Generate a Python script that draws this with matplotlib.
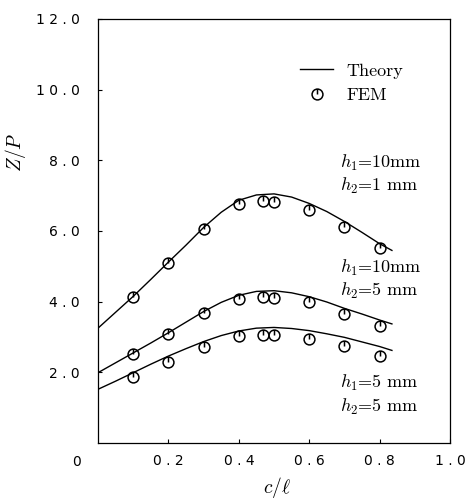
import matplotlib
matplotlib.use("Agg")
import matplotlib.pyplot as plt
from matplotlib.path import Path

plt.rcParams['mathtext.fontset'] = 'cm'

# ---- data ----
x_fem = [0.1, 0.2, 0.3, 0.4, 0.47, 0.5, 0.6, 0.7, 0.8]
fem_10_1 = [4.14, 5.09, 6.05, 6.76, 6.85, 6.83, 6.60, 6.10, 5.53]
fem_10_5 = [2.52, 3.09, 3.67, 4.08, 4.12, 4.10, 3.98, 3.65, 3.31]
fem_5_5 = [1.88, 2.30, 2.73, 3.03, 3.06, 3.06, 2.93, 2.75, 2.46]

x_theory = [0.0, 0.05, 0.1, 0.15, 0.2, 0.25, 0.3, 0.35, 0.4, 0.45, 0.5,
            0.55, 0.6, 0.65, 0.7, 0.75, 0.8, 0.835]
theory_10_1 = [3.25, 3.70, 4.15, 4.63, 5.12, 5.60, 6.10, 6.53, 6.87, 7.02, 7.05,
               6.96, 6.78, 6.55, 6.27, 5.96, 5.64, 5.45]
theory_10_5 = [1.99, 2.27, 2.55, 2.83, 3.12, 3.42, 3.72, 3.98, 4.18, 4.29, 4.31,
               4.25, 4.14, 3.99, 3.81, 3.65, 3.48, 3.37]
theory_5_5 = [1.52, 1.75, 1.99, 2.23, 2.46, 2.67, 2.87, 3.04, 3.17, 3.25, 3.27,
              3.24, 3.18, 3.09, 2.99, 2.86, 2.73, 2.62]

xticks = [0.2, 0.4, 0.6, 0.8, 1.0]
xtick_labels = ["0.2", "0.4", "0.6", "0.8", "1.0"]
yticks = [2, 4, 6, 8, 10, 12]
ytick_labels = ["2.0", "4.0", "6.0", "8.0", "10.0", "12.0"]

case_labels = [r"$h_1$=10mm" + "\n" + r"$h_2$=1 mm",
               r"$h_1$=10mm" + "\n" + r"$h_2$=5 mm",
               r"$h_1$=5 mm" + "\n" + r"$h_2$=5 mm"]
case_label_pos = [(0.688, 7.6), (0.688, 4.62), (0.688, 1.36)]

# ---- marker: circle with a short stroke from top to centre ----
circ = Path.unit_circle()
stroke = Path([[0, 1], [0, 0]], [Path.MOVETO, Path.LINETO])
fem_marker = Path.make_compound_path(circ, stroke)

def spaced(s):
    return " ".join(list(s))

tick_font = dict(family='DejaVu Sans', fontsize=10)

fig = plt.figure(figsize=(4.67, 5.01), dpi=100)
ax = fig.add_axes([0.2099, 0.1158, 0.7537, 0.8463])

for th in (theory_10_1, theory_10_5, theory_5_5):
    ax.plot(x_theory, th, color='black', lw=1.0, label='Theory')
for fm in (fem_10_1, fem_10_5, fem_5_5):
    ax.plot(x_fem, fm, linestyle='none', marker=fem_marker, markersize=7.8,
            markerfacecolor='none', markeredgecolor='black', markeredgewidth=1.1,
            label='FEM')

ax.set_xlim(0, 1.0)
ax.set_ylim(0, 12.0)

ax.set_xticks(xticks)
ax.set_xticklabels([spaced(s) for s in xtick_labels], **tick_font)
ax.set_yticks(yticks)
ax.set_yticklabels([spaced(s) for s in ytick_labels], **tick_font)
ax.tick_params(axis='x', direction='in', length=3, width=0.8, pad=8)
ax.tick_params(axis='y', direction='in', length=3, width=0.8, pad=13)
for sp in ax.spines.values():
    sp.set_linewidth(0.9)

ax.text(-0.06, -0.54, "0", ha='center', va='center', clip_on=False, **tick_font)

ax.set_xlabel(r"$c/\ell$", fontsize=14)
ax.set_ylabel(r"$Z/P$", fontsize=14)
ax.xaxis.set_label_coords(0.508, -0.076)
ax.yaxis.set_label_coords(-0.199, 0.686)

for lab, (lx, ly) in zip(case_labels, case_label_pos):
    ax.text(lx, ly, lab, family='cmr10', fontsize=13, ha='left', va='center',
            linespacing=1.2)

handles, labels = ax.get_legend_handles_labels()
ax.legend([handles[0], handles[3]], ['Theory', 'FEM'], loc='upper left',
          bbox_to_anchor=(300 / 467, 1 - 63 / 501), bbox_transform=fig.transFigure,
          frameon=False, prop={'family': 'cmr10', 'size': 13},
          handlelength=1.85, handletextpad=0.7, labelspacing=0.5,
          borderpad=0, borderaxespad=0)

fig.savefig("out.png", dpi=100)
